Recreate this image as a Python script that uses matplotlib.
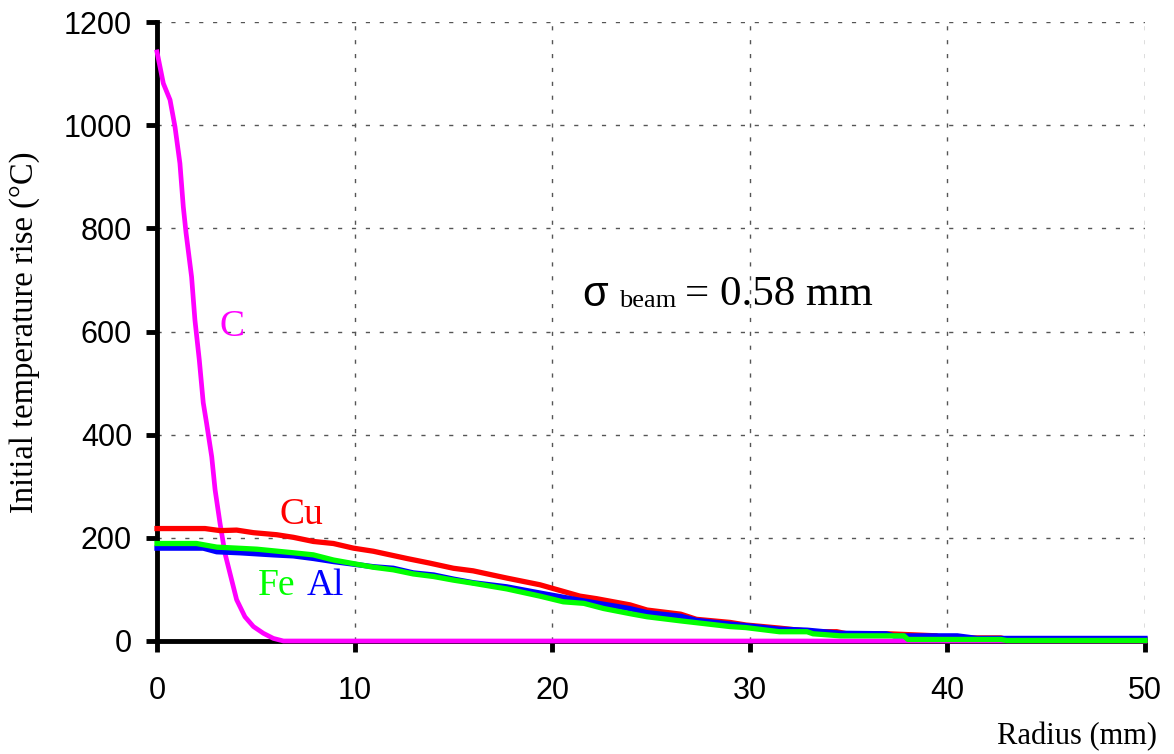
import matplotlib
matplotlib.use("Agg")
import matplotlib.pyplot as plt

# Data
c_x = [0, 0.32, 0.66, 0.91, 1.16, 1.33, 1.47, 1.75, 1.92, 2.14, 2.34, 2.51, 2.77, 2.94, 3.19, 3.44, 3.78, 4.03, 4.45, 4.88, 5.38, 5.89, 6.4, 10, 20, 30, 40, 50]
c_y = [1142, 1081, 1049, 997, 926, 842, 791, 706, 622, 545, 462, 422, 357, 293, 228, 170, 118, 80, 47, 28, 15, 5, 0, 0, 0, 0, 0, 0]

cu_x = [0, 2.43, 3.19, 4.03, 4.88, 6.06, 6.9, 7.91, 8.93, 9.94, 10.95, 12.64, 13.8, 15.0, 16.0, 17.7, 19.38, 21.4, 22.25, 23.94, 24.8, 26.5, 27.3, 29.0, 29.8, 31.5, 33.2, 34.4, 34.9, 36.0, 37.0, 39.45, 39.6, 42.7, 43.0, 44.7, 50]
cu_y = [218, 218, 214, 215, 210, 206, 201, 193, 189, 180, 174, 160, 151, 141, 136, 122, 109, 87, 82, 70, 60, 52, 42, 36, 31, 25, 18, 18, 14, 14, 14, 10, 6, 6, 3, 3, 3]

al_x = [0, 2.34, 3.02, 4.2, 5.89, 6.9, 7.91, 8.93, 9.94, 10.95, 11.96, 12.97, 14.0, 15.0, 16.0, 17.7, 19.38, 21.4, 23.9, 24.8, 26.5, 27.3, 29.0, 31.5, 32.9, 34.6, 36.9, 37.3, 40.5, 41.5, 44.7, 50]
al_y = [180, 180, 173, 171, 167, 165, 160, 154, 149, 144, 141, 132, 128, 120, 113, 105, 93, 79, 63, 55, 48, 40, 33, 23, 21, 15, 14, 10, 10, 5, 5, 5]

fe_x = [0, 2.0, 3.02, 5.05, 6.9, 7.91, 8.93, 9.94, 10.95, 11.96, 12.97, 14.0, 15.0, 16.0, 17.7, 19.38, 20.56, 21.6, 22.6, 23.94, 24.8, 26.5, 29.0, 29.8, 31.5, 32.9, 33.2, 34.6, 37.8, 38.0, 42.7, 43.0, 50]
fe_y = [189, 189, 182, 178, 171, 167, 157, 150, 143, 138, 130, 125, 118, 112, 101, 87, 76, 73, 63, 53, 47, 39, 28, 26, 18, 18, 14, 10, 10, 3, 3, 1, 1]

x_ticks = [0, 10, 20, 30, 40, 50]
y_ticks = [0, 200, 400, 600, 800, 1000, 1200]

fig = plt.figure(figsize=(11.74, 7.54), dpi=100)
ax = fig.add_axes([157/1174, 1 - 641/754, (1145-157)/1174, (641-22)/754])

lw = 3.8
ax.plot(c_x, c_y, color="#ff00ff", lw=3.4, clip_on=False, zorder=3,
        solid_joinstyle="round")
ax.plot(cu_x, cu_y, color="#ff0000", lw=lw, clip_on=False, zorder=4)
ax.plot(al_x, al_y, color="#0000ff", lw=lw, clip_on=False, zorder=5)
ax.plot(fe_x, fe_y, color="#00ff00", lw=lw, clip_on=False, zorder=6)

ax.set_xlim(0, 50)
ax.set_ylim(0, 1200)
ax.set_xticks(x_ticks)
ax.set_yticks(y_ticks)
ax.grid(True, color="#555555", linestyle=(0, (3, 7)), linewidth=1.0)
ax.set_axisbelow(True)

for s in ["top", "right"]:
    ax.spines[s].set_visible(False)
for s in ["left", "bottom"]:
    ax.spines[s].set_linewidth(3.5)
    ax.spines[s].set_color("black")
    ax.spines[s].set_zorder(2.5)

sans = "Liberation Sans"
serif = "Liberation Serif"
ax.tick_params(axis="both", direction="out", length=8, width=3.5, labelsize=22)
ax.tick_params(axis="y", pad=10)
ax.tick_params(axis="x", pad=17)
for lab in ax.get_xticklabels() + ax.get_yticklabels():
    lab.set_fontfamily(sans)

fig.text(25/1174, 1 - 332/754, "Initial temperature rise (°C)", rotation=90,
         ha="center", va="center", family=serif, fontsize=23.5)
fig.text(1077/1174, 1 - 737/754, "Radius (mm)", ha="center", va="center",
         family=serif, fontsize=22)

ax.text(21.5, 671, "σ", fontsize=30, family=sans, ha="left", va="center")
ax.text(23.4, 660, "beam", fontsize=19, family=serif, ha="left", va="center")
ax.text(26.7, 671, "= 0.58 mm", fontsize=31, family=serif, ha="left", va="center")

ax.text(3.82, 610, "C", color="#ff00ff", fontsize=27, family=serif, ha="center", va="center")
ax.text(7.3, 245, "Cu", color="#ff0000", fontsize=27, family=serif, ha="center", va="center")
ax.text(6.05, 107, "Fe", color="#00ff00", fontsize=27, family=serif, ha="center", va="center")
ax.text(8.5, 107, "Al", color="#0000ff", fontsize=27, family=serif, ha="center", va="center")

fig.savefig("out.png", dpi=100)
